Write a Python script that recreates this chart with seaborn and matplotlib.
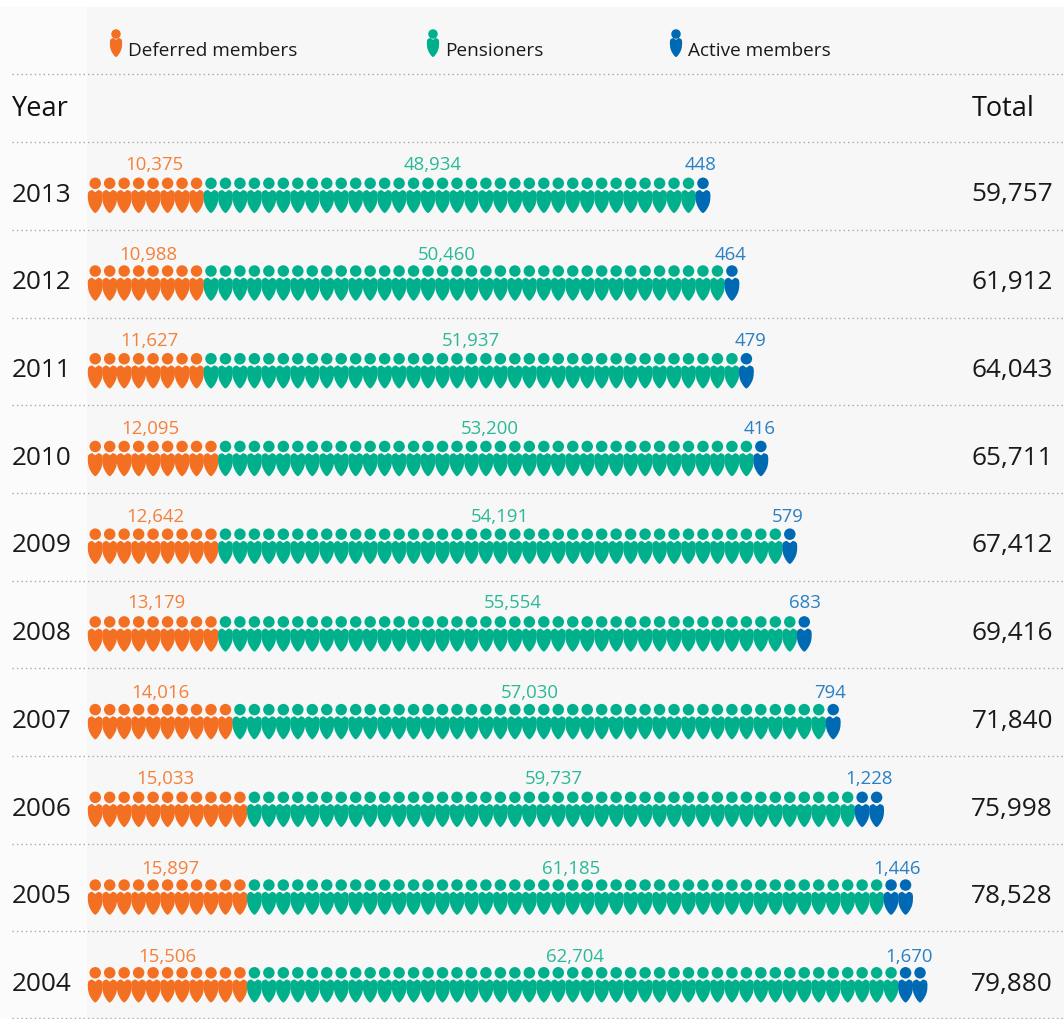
import pandas as pd
import matplotlib
matplotlib.use("Agg")
import matplotlib.pyplot as plt
import seaborn as sns
from matplotlib.path import Path
from matplotlib.patches import Rectangle
from matplotlib.transforms import Affine2D

# =====================
# DATA
# =====================
years = [2013, 2012, 2011, 2010, 2009, 2008, 2007, 2006, 2005, 2004]
deferred = [10375, 10988, 11627, 12095, 12642, 13179, 14016, 15033, 15897, 15506]
pensioners = [48934, 50460, 51937, 53200, 54191, 55554, 57030, 59737, 61185, 62704]
active = [448, 464, 479, 416, 579, 683, 794, 1228, 1446, 1670]
totals = [59757, 61912, 64043, 65711, 67412, 69416, 71840, 75998, 78528, 79880]

# number of figures drawn per row, counted off the picture
deferred_icons = [8, 8, 8, 9, 9, 9, 10, 11, 11, 11]
pensioner_icons = [34, 36, 37, 37, 39, 40, 41, 42, 44, 45]
active_icons = [1, 1, 1, 1, 1, 1, 1, 2, 2, 2]

series_names = ["Deferred members", "Pensioners", "Active members"]

# =====================
# LAYOUT (pixels)
# =====================
W, H = 1064, 1019
FONT = "Open Sans"
colors = {"Deferred members": "#f37022", "Pensioners": "#00b08d", "Active members": "#0069b4"}
label_colors = {"Deferred members": "#f5803a", "Pensioners": "#2bb898", "Active members": "#2a80c4"}
text_color = "#1a1a1a"

x0 = 88.0
pitch = 14.47
year_y0 = 193.0
row_h = 87.72
head_offset = 9.7 / row_h
body_offset = 8.5 / row_h

deferred_label_x = [154, 148, 149, 150, 155, 156, 160, 165, 170, 167]
pensioner_label_x = [433, 447, 471, 490, 500, 513, 530, 554, 571, 575]
active_label_x = [701, 731, 751, 760, 788, 805, 830, 869, 897, 909]
label_y = [164.5, 255.5, 340.5, 428.5, 517.5, 603.5, 692.5, 779.5, 868.5, 956.5]
rule_y = [74, 142, 230, 318, 405, 493, 581, 668, 756, 844, 931, 1018]
legend_icon_x = [116, 433, 676]
legend_text_x = [128, 445, 688]

# =====================
# ICON SHAPE
# =====================
body_verts = [
    (0, 9.4),
    (-1.0, 9.8), (-2.0, 10.6), (-2.8, 11.5),
    (-4.6, 11.3), (-6.2, 10.8), (-7.1, 9.0),
    (-7.7, 5.5), (-7.6, 1.0), (-6.2, -3),
    (-4.8, -6.8), (-1.6, -11.5), (0, -11.5),
    (1.6, -11.5), (4.8, -6.8), (6.2, -3),
    (7.6, 1.0), (7.7, 5.5), (7.1, 9.0),
    (6.2, 10.8), (4.6, 11.3), (2.8, 11.5),
    (2.0, 10.6), (1.0, 9.8), (0, 9.4),
    (0, 9.4),
]
body_codes = [Path.MOVETO] + [Path.CURVE4] * 24 + [Path.CLOSEPOLY]
body_marker = Path(body_verts, body_codes)

# =====================
# ICON TABLE
# =====================
rows = []
for i, yr in enumerate(years):
    counts = [deferred_icons[i], pensioner_icons[i], active_icons[i]]
    pos = 0
    for name, n in zip(series_names, counts):
        for k in range(n):
            rows.append({"year": yr, "slot": pos, "series": name})
            pos += 1
icons = pd.DataFrame(rows)
icons["head_y"] = icons["year"] + head_offset
icons["body_y"] = icons["year"] - body_offset

# =====================
# FIGURE
# =====================
sns.set_theme(style="white")
plt.rcParams["font.family"] = [FONT, "DejaVu Sans"]
fig = plt.figure(figsize=(W / 100, H / 100), dpi=100, facecolor="white")
ax = fig.add_axes([0, 0, 1, 1])
ax.set_axis_off()

# pixel coordinates, origin top left
px = Affine2D().scale(1, -1).translate(0, H)

ax.add_patch(Rectangle((0, 7), 87, H - 7, transform=px, color="#fbfbfb", lw=0, zorder=0))
ax.add_patch(Rectangle((87, 7), W - 87, H - 7, transform=px, color="#f7f7f7", lw=0, zorder=0))

for y in rule_y:
    ax.plot([12, W], [y, y], transform=px, color="#a8a8a8", lw=1.0,
            ls=(0, (1, 2.2)), zorder=1)

sns.scatterplot(data=icons, x="slot", y="body_y", hue="series", palette=colors,
                marker=body_marker, s=(23 * 0.72) ** 2, linewidth=0, edgecolor="none",
                legend=False, ax=ax, zorder=3)
sns.scatterplot(data=icons, x="slot", y="head_y", hue="series", palette=colors,
                marker="o", s=(11.5 * 0.72) ** 2, linewidth=0, edgecolor="none",
                legend=False, ax=ax, zorder=3)

# slot i is centred at x0 + pitch * (i + .5); year 2013 sits on year_y0
ax.set_xlim(-(x0 + pitch / 2) / pitch, (W - x0 - pitch / 2) / pitch)
ax.set_ylim(years[0] - (H - year_y0) / row_h, years[0] + year_y0 / row_h)
ax.set_xlabel("")
ax.set_ylabel("")

# =====================
# LEGEND
# =====================
for name, ix, tx in zip(series_names, legend_icon_x, legend_text_x):
    sns.scatterplot(x=[ix], y=[47.5], marker=body_marker, s=(19 * 0.72) ** 2, color=colors[name],
                    linewidth=0, edgecolor="none", transform=px, ax=ax, zorder=3)
    sns.scatterplot(x=[ix], y=[34], marker="o", s=(9.5 * 0.72) ** 2, color=colors[name],
                    linewidth=0, edgecolor="none", transform=px, ax=ax, zorder=3)
    ax.text(tx, 51, name, transform=px, ha="left", va="center", fontsize=13.7, color=text_color)

# =====================
# TEXT
# =====================
ax.text(12, 109, "Year", transform=px, ha="left", va="center", fontsize=19.5, color="#111111")
ax.text(972, 109, "Total", transform=px, ha="left", va="center", fontsize=19.5, color="#111111")

for i, yr in enumerate(years):
    y = year_y0 + row_h * i
    ax.text(12, y + 2, str(yr), transform=px, ha="left", va="center", fontsize=18.8, color=text_color)
    ax.text(1053, y + 2, f"{totals[i]:,}", transform=px, ha="right", va="center", fontsize=18.8, color=text_color)
    ax.text(deferred_label_x[i], label_y[i], f"{deferred[i]:,}", transform=px, ha="center", va="center",
            fontsize=13.4, color=label_colors["Deferred members"])
    ax.text(pensioner_label_x[i], label_y[i], f"{pensioners[i]:,}", transform=px, ha="center", va="center",
            fontsize=13.4, color=label_colors["Pensioners"])
    ax.text(active_label_x[i], label_y[i], f"{active[i]:,}", transform=px, ha="center", va="center",
            fontsize=13.4, color=label_colors["Active members"])

fig.savefig("out.png", dpi=100, facecolor="white")
plt.close(fig)
